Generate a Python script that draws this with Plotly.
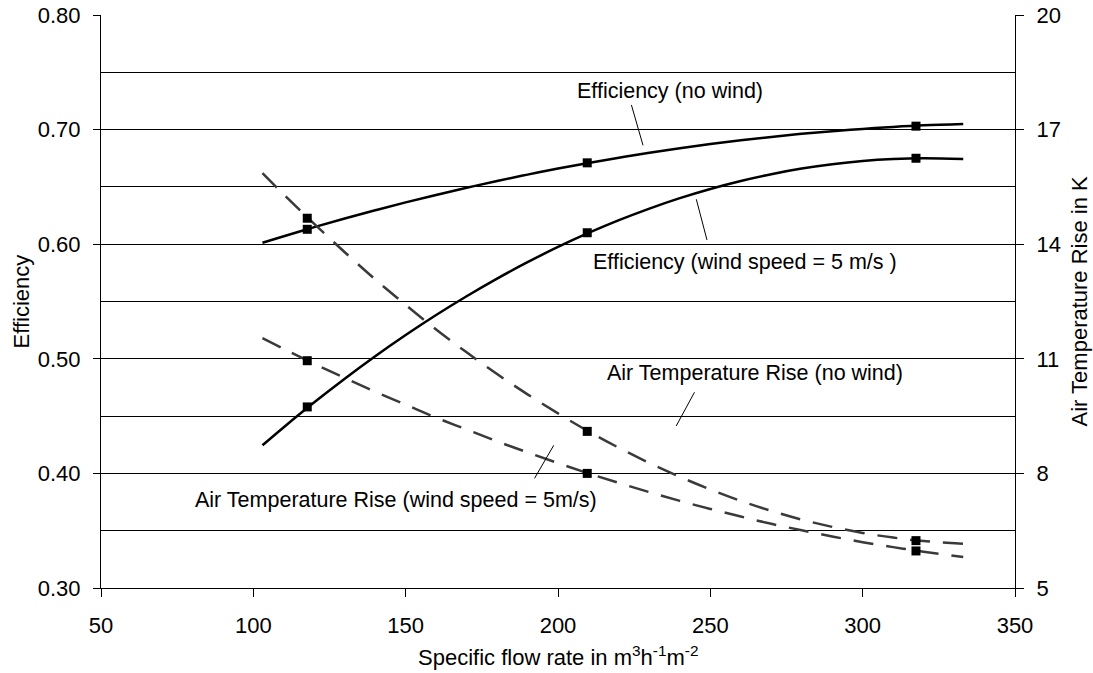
import plotly.graph_objects as go

# ---------------- data ----------------
flow_meas = [117.7, 209.6, 317.5]
eff_nowind_meas = [0.613, 0.671, 0.703]
eff_wind_meas = [0.458, 0.610, 0.675]
temp_nowind_meas = [14.68, 9.10, 6.24]
temp_wind_meas = [10.95, 8.00, 5.97]

# trend curves
trend_x = [103, 110, 120, 130, 140, 150, 160, 170, 180, 190, 200, 210,
           220, 230, 240, 250, 260, 270, 280, 290, 300, 310, 320, 333]
eff_nowind_trend = [0.6013, 0.6070, 0.6149, 0.6224, 0.6296, 0.6365, 0.6430,
                    0.6492, 0.6552, 0.6607, 0.6660, 0.6709, 0.6755, 0.6798,
                    0.6837, 0.6874, 0.6907, 0.6936, 0.6963, 0.6986, 0.7006,
                    0.7023, 0.7037, 0.7049]
eff_wind_trend = [0.4245, 0.4403, 0.4620, 0.4826, 0.5022, 0.5207, 0.5382,
                  0.5546, 0.5700, 0.5843, 0.5976, 0.6098, 0.6210, 0.6311,
                  0.6402, 0.6482, 0.6552, 0.6611, 0.6660, 0.6698, 0.6726,
                  0.6743, 0.6750, 0.6743]
temp_nowind_trend = [15.86, 15.30, 14.53, 13.79, 13.08, 12.41, 11.77, 11.17,
                     10.60, 10.07, 9.57, 9.10, 8.67, 8.27, 7.91, 7.58, 7.28,
                     7.02, 6.79, 6.60, 6.44, 6.32, 6.23, 6.16]
temp_wind_trend = [11.54, 11.26, 10.87, 10.50, 10.14, 9.80, 9.46, 9.15, 8.84,
                   8.55, 8.27, 8.00, 7.75, 7.51, 7.28, 7.07, 6.87, 6.68, 6.51,
                   6.35, 6.20, 6.07, 5.95, 5.81]

x_ticks = [50, 100, 150, 200, 250, 300, 350]
eff_ticks = [0.30, 0.40, 0.50, 0.60, 0.70, 0.80]
temp_ticks = [5, 8, 11, 14, 17, 20]

labels = ["Efficiency (no wind)",
          "Efficiency (wind speed = 5 m/s )",
          "Air Temperature Rise (no wind)",
          "Air Temperature Rise (wind speed = 5m/s)"]

# ---------------- styling / layout constants ----------------
FONT = "Liberation Sans, Arial, sans-serif"
TICK_SIZE = 22
LABEL_SIZE = 21.5
DASH_COLOR = "#3a3a3a"
DASH = "20px,13px"

# annotation text positions (data coords, left axis) and leader lines
label_pos = [(236.6, 0.7337), (261.5, 0.5847), (264.8, 0.4873), (146.7, 0.3768)]
leaders = [((224.1, 0.7215), (227.9, 0.6863)),
           ((245.4, 0.6392), (248.9, 0.6037)),
           ((244.8, 0.4708), (238.8, 0.4414)),
           ((198.6, 0.4245), (192.3, 0.3957))]

fig = go.Figure()

# trend lines
fig.add_trace(go.Scatter(x=trend_x, y=eff_nowind_trend, mode="lines",
                         line=dict(color="black", width=2.5, shape="spline"),
                         yaxis="y"))
fig.add_trace(go.Scatter(x=trend_x, y=eff_wind_trend, mode="lines",
                         line=dict(color="black", width=2.5, shape="spline"),
                         yaxis="y"))
fig.add_trace(go.Scatter(x=trend_x, y=temp_nowind_trend, mode="lines",
                         line=dict(color=DASH_COLOR, width=2.5, dash=DASH,
                                   shape="spline"),
                         yaxis="y2"))
fig.add_trace(go.Scatter(x=trend_x, y=temp_wind_trend, mode="lines",
                         line=dict(color=DASH_COLOR, width=2.5, dash=DASH,
                                   shape="spline"),
                         yaxis="y2"))

# measured points
mk = dict(symbol="square", size=9, color="black")
fig.add_trace(go.Scatter(x=flow_meas, y=eff_nowind_meas, mode="markers",
                         marker=mk, yaxis="y"))
fig.add_trace(go.Scatter(x=flow_meas, y=eff_wind_meas, mode="markers",
                         marker=mk, yaxis="y"))
fig.add_trace(go.Scatter(x=flow_meas, y=temp_nowind_meas, mode="markers",
                         marker=mk, yaxis="y2"))
fig.add_trace(go.Scatter(x=flow_meas, y=temp_wind_meas, mode="markers",
                         marker=mk, yaxis="y2"))

# empty traces to carry the inner half of the crossing tick marks
fig.add_trace(go.Scatter(x=[None], y=[None], yaxis="y3", hoverinfo="skip"))
fig.add_trace(go.Scatter(x=[None], y=[None], yaxis="y4", hoverinfo="skip"))

annotations = []
for (tx, ty), txt in zip(label_pos, labels):
    annotations.append(dict(x=tx, y=ty, xref="x", yref="y", text=txt,
                            showarrow=False, xanchor="center", yanchor="middle",
                            font=dict(family=FONT, size=LABEL_SIZE, color="black")))

# axis titles
annotations.append(dict(x=0, y=0.5, xref="paper", yref="paper", text="Efficiency",
                        textangle=-90, showarrow=False, xanchor="center",
                        yanchor="middle", xshift=-80,
                        font=dict(family=FONT, size=TICK_SIZE, color="black")))
annotations.append(dict(x=1, y=0.5, xref="paper", yref="paper",
                        text="Air Temperature Rise in K",
                        textangle=-90, showarrow=False, xanchor="center",
                        yanchor="middle", xshift=64,
                        font=dict(family=FONT, size=TICK_SIZE, color="black")))
annotations.append(dict(x=0.5, y=0, xref="paper", yref="paper",
                        text="Specific flow rate in m<sup>3</sup>h<sup>-1</sup>m<sup>-2</sup>",
                        showarrow=False, xanchor="center", yanchor="top",
                        yshift=-52,
                        font=dict(family=FONT, size=TICK_SIZE, color="black")))

shapes = []
for (p0, p1) in leaders:
    shapes.append(dict(type="line", xref="x", yref="y",
                       x0=p0[0], y0=p0[1], x1=p1[0], y1=p1[1],
                       line=dict(color="black", width=1)))

fig.update_layout(
    width=1093, height=673,
    margin=dict(l=101, r=78, t=15, b=85, pad=0, autoexpand=False),
    paper_bgcolor="white", plot_bgcolor="white",
    showlegend=False,
    font=dict(family=FONT, size=TICK_SIZE, color="black"),
    annotations=annotations,
    shapes=shapes,
    xaxis=dict(range=[50, 350], tickmode="array", tickvals=x_ticks,
               ticks="outside", ticklen=8, tickcolor="black", tickwidth=1,
               showline=True, linecolor="black", linewidth=1,
               showgrid=False, zeroline=False, ticklabelstandoff=10,
               automargin=False,
               tickfont=dict(family=FONT, size=TICK_SIZE, color="black")),
    yaxis=dict(range=[0.3, 0.8], tickmode="array", tickvals=eff_ticks,
               tickformat=".2f", ticks="outside", ticklen=7,
               tickcolor="black", tickwidth=1,
               showline=True, linecolor="black", linewidth=1,
               showgrid=True, gridcolor="black", gridwidth=1,
               minor=dict(dtick=0.05, tick0=0.3, showgrid=True,
                          gridcolor="black", gridwidth=1, ticks=""),
               zeroline=False, ticklabelstandoff=8, automargin=False,
               tickfont=dict(family=FONT, size=TICK_SIZE, color="black")),
    yaxis2=dict(range=[5, 20], tickmode="array", tickvals=temp_ticks,
                overlaying="y", side="right", anchor="x",
                ticks="outside", ticklen=8, tickcolor="black", tickwidth=1,
                showline=True, linecolor="black", linewidth=1,
                showgrid=False, zeroline=False, ticklabelstandoff=8,
                automargin=False,
                tickfont=dict(family=FONT, size=TICK_SIZE, color="black")),
    yaxis3=dict(range=[0.3, 0.8], tickmode="array", tickvals=eff_ticks,
                overlaying="y", side="left", anchor="x",
                ticks="inside", ticklen=7, tickcolor="black",
                showticklabels=False, showline=False, showgrid=False,
                zeroline=False, automargin=False),
    yaxis4=dict(range=[5, 20], tickmode="array", tickvals=temp_ticks,
                overlaying="y", side="right", anchor="x",
                ticks="inside", ticklen=8, tickcolor="black",
                showticklabels=False, showline=False, showgrid=False,
                zeroline=False, automargin=False),
)

fig.write_html("out.html",
               config={"displayModeBar": False},
               post_script="document.body.style.margin='0';"
                           "document.body.style.overflow='hidden';")
